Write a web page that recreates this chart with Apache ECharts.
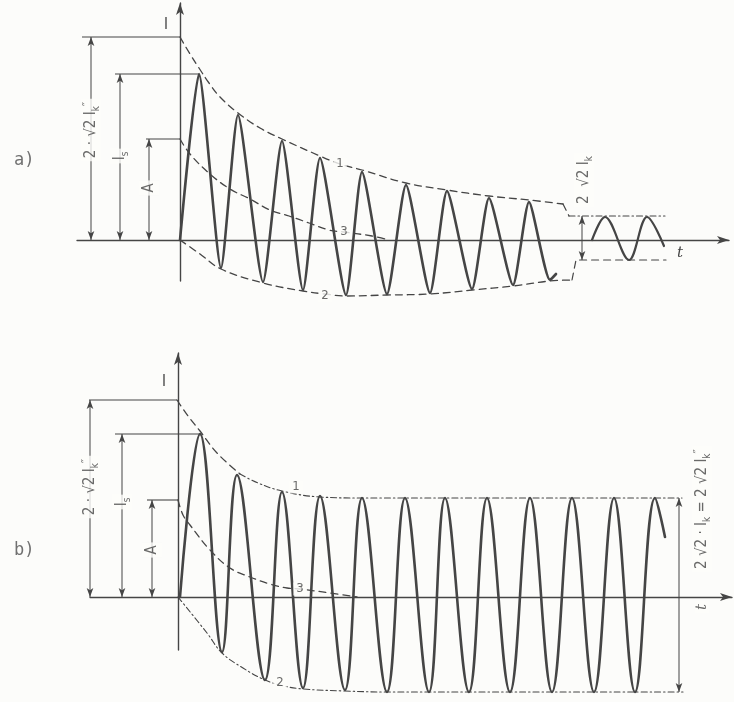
<!DOCTYPE html>
<html><head><meta charset="utf-8">
<script src="https://cdn.jsdelivr.net/npm/echarts/dist/echarts.min.js"></script>
<style>html,body{margin:0;padding:0;background:#fcfcfa}#c{width:734px;height:702px}</style>
</head><body><div id="c"></div>
<script>
// ---------- chart a) : decaying AC component (far from generator) ----------
const waveA = [[0,0],[19,166],[41,-28],[58,125],[83,-42],[102,99],[123,-50],[140,82],[166,-55],[182,68],[207,-54],[226,55],[250,-53],[267,49],[292,-49],[309,42],[333,-45],[349,38],[370,-40],[376,-34]];
const steadyA = [[412,0],[425,23],[449,-20],[467,23],[484,-6]];
const envUpperA = [[0,203],[10,186],[19,172],[29,157],[40,143],[58,127],[80,112],[102,101],[140,84],[160,76],[182,70],[226,57],[267,50],[309,44],[349,40],[383,36]];
const envUpperLinkA = [[383,36],[389,24]];
const envUpperSteadyA = [[389,24],[485,24]];
const envLowerA = [[0,0],[20,-14],[41,-29],[83,-43],[123,-51],[145,-54],[166,-56],[207,-55],[250,-54],[292,-50],[333,-46],[370,-41],[392,-40]];
const envLowerSteadyA = [[392,-40],[396,-20],[486,-20]];
const dcA = [[0,101],[10,86],[30,66],[50,51],[70,41],[90,30],[109,24],[129,17],[149,10],[164,8],[192,4],[205,1]];
const levelsA = [203, 166, 101];          // 2·√2·I_k'', I_s, A
const dimXA = [-89, -60, -31];
const extFromA = [-98, -65, -34];
const extToA = [0, 19, 0];
const steadyDimA = [402, -20, 24];
const notesA = [
  [-89, 110, '{m|2 · √2 I}{s|k}{p|″}', 90],
  [-60, 84, '{m|I}{s|s}', 90],
  [-31, 52, '{m|A}', 90],
  [404, 60, '{m|2  √2 I}{s|k}', 90],
  [160, 76, '1', 0],
  [145, -56, '2', 0],
  [164, 8, '3', 0]
];

// ---------- chart b) : constant AC component (near generator) ----------
const waveB = [[2,0],[22,163],[44,-55],[59,122],[87,-83],[104,105],[125,-91],[142,101],[167,-93],[184,99],[209,-95],[227,99],[251,-95],[267,99],[291,-95],[309,99],[332,-95],[352,99],[374,-95],[394,99],[416,-95],[436,99],[457,-95],[477,99],[487,60]];
const envUpperB = [[-1,197],[10,181],[22,166],[39,144],[62,123]];
const envUpperSteadyB = [[62,123],[80,114],[104,106],[142,100],[184,99],[504,99]];
const envLowerB = [[0,0],[29,-36],[44,-56],[65,-71],[87,-83],[106,-89],[125,-92],[167,-94],[209,-95],[505,-95]];
const dcB = [[0,97],[5,82],[12,72],[32,47],[52,29],[72,20],[92,13],[109,9],[122,8],[152,4],[179,0]];
const levelsB = [197, 163, 97];
const dimXB = [-88, -56, -26];
const extFromB = [-92, -63, -31];
const extToB = [-1, 22, 0];
const steadyDimB = [501, -95, 99];
const notesB = [
  [-88, 110, '{m|2 · √2 I}{s|k}{p|″}', 90],
  [-56, 95, '{m|I}{s|s}', 90],
  [-26, 47, '{m|A}', 90],
  [524, 88, '{m|2 √2 · I}{s|k}{m| = 2 √2 I}{s|k}{p|″}', 90],
  [524, -10, '{t|t}', 90],
  [118, 110, '1', 0],
  [102, -86, '2', 0],
  [122, 8, '3', 0]
];

const INK = '#454545';
const BG = '#fcfcfa';
const FONT = '"DejaVu Sans Condensed","DejaVu Sans","Liberation Sans",sans-serif';
const DASH = [7,5];
const DASHDOT = [6,3,1.5,3];

const RICH = {
  m:{fontSize:15, fontFamily:FONT, color:INK, lineHeight:20, verticalAlign:'middle'},
  s:{fontSize:10, fontFamily:FONT, color:INK, lineHeight:9, verticalAlign:'bottom'},
  p:{fontSize:13, fontFamily:FONT, color:INK, lineHeight:9, verticalAlign:'top'},
  t:{fontSize:15, fontFamily:'"DejaVu Serif",serif', fontStyle:'italic', color:INK}
};

function ln(gi, data, width, type, smooth, z){
  return {type:'line', xAxisIndex:gi, yAxisIndex:gi, data:data, symbol:'none', smooth:smooth,
    clip:false, silent:true, z:z||3, lineStyle:{color:INK, width:width, type:type, cap:'round', join:'round'}};
}
// dimension line with arrowheads at both ends
function arrowLine(gi, x, y0, y1){
  return {type:'line', xAxisIndex:gi, yAxisIndex:gi, clip:false, silent:true, z:4, symbol:'none',
    lineStyle:{color:INK, width:1}, itemStyle:{color:INK},
    data:[{value:[x,y0], symbol:'arrow', symbolSize:[5,9], symbolRotate:180},
          {value:[x,y1], symbol:'arrow', symbolSize:[5,9], symbolRotate:0}]};
}
// plain extension line
function extLine(gi, x0, x1, y){
  return {type:'line', xAxisIndex:gi, yAxisIndex:gi, clip:false, silent:true, z:4, symbol:'none',
    lineStyle:{color:INK, width:1.1}, data:[[x0,y],[x1,y]]};
}
function dims(gi, levels, xs, from, to, steady){
  const out = [];
  levels.forEach((v,k)=>{ out.push(arrowLine(gi, xs[k], 0, v)); out.push(extLine(gi, from[k], to[k], v)); });
  out.push(arrowLine(gi, steady[0], steady[1], steady[2]));
  return out;
}
function notes(gi, list){
  return {type:'scatter', xAxisIndex:gi, yAxisIndex:gi, symbolSize:1, clip:false, silent:true, z:20,
    itemStyle:{color:'rgba(0,0,0,0)'},
    label:{show:true, position:'inside', align:'center', verticalAlign:'middle', color:INK, fontSize:13,
      fontFamily:FONT, backgroundColor:BG, padding:[0,3], rich:RICH, formatter:p=>p.data.text},
    data:list.map(n=>({value:[n[0],n[1]], text:n[2], label:{rotate:n[3]}}))};
}
function axisBase(){
  return {type:'value', axisLine:{show:true, onZero:true, symbol:['none','arrow'], symbolSize:[6,12],
    lineStyle:{color:INK, width:1.4}}, axisTick:{show:false}, axisLabel:{show:false}, splitLine:{show:false}};
}
const nameStyle = {fontFamily:'"DejaVu Serif",serif', fontStyle:'italic', fontSize:15, color:INK};

const chart = echarts.init(document.getElementById('c'), null, {renderer:'canvas'});
chart.setOption({
  backgroundColor:BG,
  animation:false,
  title:[
    {text:'a)', left:9, top:147, textStyle:{fontFamily:'"DejaVu Sans Mono",monospace', fontWeight:'normal', fontSize:17, color:'#707070'}},
    {text:'b)', left:9, top:537, textStyle:{fontFamily:'"DejaVu Sans Mono",monospace', fontWeight:'normal', fontSize:17, color:'#707070'}}
  ],
  grid:[
    {left:77, top:3, width:652, height:278},
    {left:90, top:353, width:642, height:297}
  ],
  xAxis:[
    Object.assign(axisBase(), {gridIndex:0, min:-103, max:549, name:'t', nameLocation:'end', nameGap:-52,
      nameTextStyle:Object.assign({verticalAlign:'top', padding:[6,0,0,0]}, nameStyle)}),
    Object.assign(axisBase(), {gridIndex:1, min:-88, max:554})
  ],
  yAxis:[
    Object.assign(axisBase(), {gridIndex:0, min:-41, max:237, name:'I', nameLocation:'end', nameGap:-15,
      nameTextStyle:{fontFamily:FONT, fontSize:15, color:INK, align:'right', verticalAlign:'top', padding:[0,12,0,0]}}),
    Object.assign(axisBase(), {gridIndex:1, min:-53, max:244, name:'I', nameLocation:'end', nameGap:-22,
      nameTextStyle:{fontFamily:FONT, fontSize:15, color:INK, align:'right', verticalAlign:'top', padding:[0,12,0,0]}})
  ],
  series:[
    ln(0, waveA, 2.6, 'solid', 0.2, 5),
    ln(0, steadyA, 2.2, 'solid', 0.35, 5),
    ln(0, envUpperA, 1.3, DASH, 0.4),
    ln(0, envUpperLinkA, 1.2, DASH, 0),
    ln(0, envUpperSteadyA, 1.1, DASHDOT, 0),
    ln(0, envLowerA, 1.3, DASH, 0.4),
    ln(0, envLowerSteadyA, 1.2, DASH, 0),
    ln(0, dcA, 1.3, DASH, 0.4),
    ...dims(0, levelsA, dimXA, extFromA, extToA, steadyDimA),
    notes(0, notesA),
    ln(1, waveB, 2.6, 'solid', 0.4, 5),
    ln(1, envUpperB, 1.3, DASH, 0.4),
    ln(1, envUpperSteadyB, 1.1, DASHDOT, 0.4),
    ln(1, envLowerB, 1.1, DASHDOT, 0.4),
    ln(1, dcB, 1.3, DASH, 0.4),
    ...dims(1, levelsB, dimXB, extFromB, extToB, steadyDimB),
    notes(1, notesB)
  ]
});
</script></body></html>
